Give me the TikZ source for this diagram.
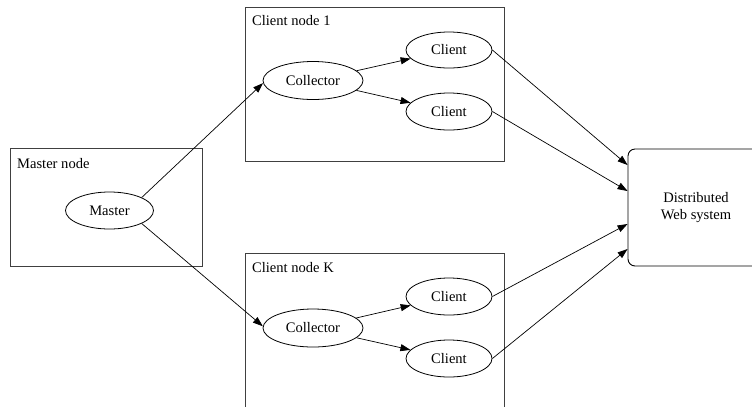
\documentclass[tikz,border=0pt]{standalone}
\usepackage{fontspec}
\setmainfont{Liberation Serif}
\usetikzlibrary{arrows.meta,shapes.geometric,calc}
\begin{document}
\begin{tikzpicture}[x=1bp,y=-1bp,
  every node/.style={font=\fontsize{14.6}{17}\selectfont},
  cluster/.style={draw=black!75,line width=0.9bp},
  proc/.style={draw,ellipse,line width=0.8bp,inner sep=0pt,minimum height=37bp},
  edge/.style={draw,line width=0.7bp,-{Triangle[length=10bp,width=7bp]}},
  caption/.style={anchor=base west,inner sep=0pt}]
\useasboundingbox (0,0) rectangle (752,406);
\clip (0,0) rectangle (752,406);

% cluster frames
\draw[cluster] (10,148) rectangle (202,266);
\draw[cluster] (245,7) rectangle (504,161);
\draw[cluster] (245,253) rectangle (504,420);
\node[caption] (lm) at (17,168) {Master node};
\node[caption] (l1) at (252,25) {Client node 1};
\node[caption] (lk) at (252,272) {Client node K};

% processes
\node[proc,minimum width=88bp] (master) at (109.5,210.5) {Master};
\node[proc,minimum width=100bp,minimum height=38bp] (col1) at (313,80.5) {Collector};
\node[proc,minimum width=86bp,minimum height=36bp] (c1a) at (449,50) {Client};
\node[proc,minimum width=86bp] (c1b) at (449,111.5) {Client};
\node[proc,minimum width=100bp,minimum height=38bp] (colk) at (313,328) {Collector};
\node[proc,minimum width=86bp] (cka) at (449,296.5) {Client};
\node[proc,minimum width=86bp] (ckb) at (449,358.5) {Client};

% web system
\node[draw,line width=0.9bp,rounded corners=7bp,minimum width=136bp,minimum height=117bp,
      align=center,inner sep=0pt] (web) at (696,207.5) {Distributed\\Web system};
\coordinate (w1) at ($(web.west)+(0,-42.5)$);
\coordinate (w2) at ($(web.west)+(0,-16.5)$);
\coordinate (w3) at ($(web.west)+(0,16.5)$);
\coordinate (w4) at ($(web.west)+(0,41.5)$);

% connectors
\draw[edge] (master.22) -- (col1.183);
\draw[edge] (master.-22) -- (colk.178);
\draw[edge] (col1) -- (c1a);
\draw[edge] (col1) -- (c1b);
\draw[edge] (colk) -- (cka);
\draw[edge] (colk) -- (ckb);
\draw[edge] (c1a.east) -- (w1);
\draw[edge] (c1b.east) -- (w2);
\draw[edge] (cka.east) -- (w3);
\draw[edge] (ckb.east) -- (w4);
\end{tikzpicture}
\end{document}
